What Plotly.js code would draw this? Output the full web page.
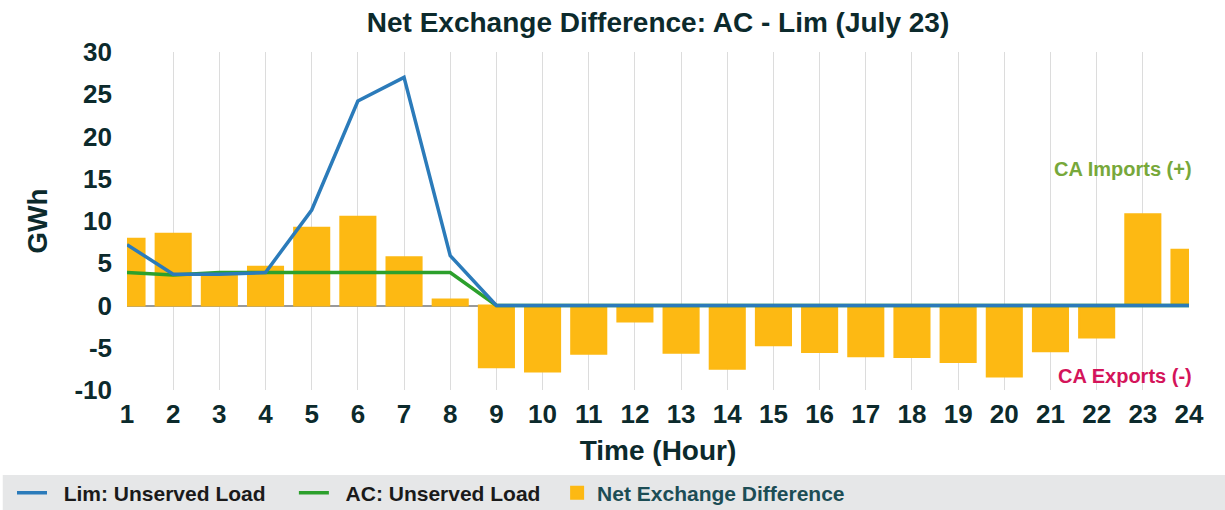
<!DOCTYPE html>
<html>
<head>
<meta charset="utf-8">
<script src="https://cdn.plot.ly/plotly-3.0.1.min.js"></script>
<style>
  html, body { margin: 0; padding: 0; background: #fff; }
  #chart { width: 1225px; height: 510px; }
</style>
</head>
<body>
<div id="chart"></div>
<script>
// hours of the day
var hours = [1, 2, 3, 4, 5, 6, 7, 8, 9, 10, 11, 12, 13, 14, 15, 16, 17, 18, 19, 20, 21, 22, 23, 24];

// GWh values
var netExchange = [7.9, 8.5, 3.7, 4.6, 9.2, 10.5, 5.7, 0.7, -7.3, -7.8, -5.7, -1.9, -5.6, -7.5, -4.7, -5.5, -6.0, -6.1, -6.7, -8.4, -5.4, -3.8, 10.8, 6.6];
var limUnserved = [7.2, 3.7, 3.7, 3.9, 11.3, 24.2, 27.0, 5.9, 0, 0, 0, 0, 0, 0, 0, 0, 0, 0, 0, 0, 0, 0, 0, 0];
var acUnserved = [3.9, 3.6, 3.9, 3.9, 3.9, 3.9, 3.9, 3.9, 0, 0, 0, 0, 0, 0, 0, 0, 0, 0, 0, 0, 0, 0, 0, 0];

var yTicks = [-10, -5, 0, 5, 10, 15, 20, 25, 30];

var darkText = '#0c2a2c';
var barColor = '#fdb913';
var font = 'Liberation Sans, Arial, sans-serif';

// non-breaking spaces to pad the legend entries apart
function pad(n) { return new Array(n + 1).join('&nbsp;'); }

// draw order: bars, AC, then Lim on top; legendrank keeps Lim, AC, Net in the legend
var data = [
    {
        x: hours,
        y: netExchange,
        type: 'bar',
        width: 0.76,
        name: '<b><span style="color:#1c4d55">Net Exchange Difference</span></b>',
        legendrank: 3,
        marker: { color: barColor, line: { color: barColor, width: 2 } }
    },
    {
        x: hours,
        y: acUnserved,
        type: 'scatter',
        mode: 'lines',
        name: pad(2) + '<b>AC: Unserved Load</b>' + pad(2),
        legendrank: 2,
        line: { color: '#2ca02c', width: 3.5 }
    },
    {
        x: hours,
        y: limUnserved,
        type: 'scatter',
        mode: 'lines',
        name: pad(2) + '<b>Lim: Unserved Load</b>' + pad(4),
        legendrank: 1,
        line: { color: '#2b7bba', width: 3.5 }
    }
];

var layout = {
    width: 1225,
    height: 510,
    margin: { l: 127, r: 36, t: 52, b: 120 },
    paper_bgcolor: '#fff',
    plot_bgcolor: '#fff',
    font: { family: font, color: darkText },
    title: {
        text: '<b>Net Exchange Difference: AC - Lim (July 23)</b>',
        font: { size: 28, color: darkText },
        xref: 'paper',
        x: 0.5,
        xanchor: 'center',
        yref: 'container',
        y: 1 - 22 / 510,
        yanchor: 'middle'
    },
    xaxis: {
        range: [1, 24],
        tickvals: hours,
        ticktext: hours.map(function (h) { return '<b>' + h + '</b>'; }),
        tickfont: { size: 26, color: darkText },
        ticklabelstandoff: 6,
        showgrid: true,
        gridcolor: '#dcdcdc',
        gridwidth: 1,
        zeroline: false,
        showline: false,
        ticks: '',
        title: { text: '<b>Time (Hour)</b>', font: { size: 28, color: darkText }, standoff: 12 }
    },
    yaxis: {
        range: [-10, 30],
        tickvals: yTicks,
        ticktext: yTicks.map(function (v) { return '<b>' + v + '</b>'; }),
        tickfont: { size: 26, color: darkText },
        ticklabelstandoff: 14,
        showgrid: false,
        zeroline: true,
        zerolinecolor: '#9a9a9a',
        zerolinewidth: 1.5,
        ticks: '',
        title: { text: '<b>GWh</b>', font: { size: 28, color: darkText }, standoff: 18 }
    },
    showlegend: true,
    legend: {
        orientation: 'h',
        xref: 'container',
        yref: 'container',
        x: 12 / 1225,
        xanchor: 'left',
        y: 1 - 493 / 510,
        yanchor: 'middle',
        bgcolor: 'rgba(0,0,0,0)',
        font: { size: 21, color: '#1a1a1a' },
        traceorder: 'normal'
    },
    shapes: [
        {
            type: 'rect',
            xref: 'paper', yref: 'paper',
            x0: -0.117, x1: 1.04,
            y0: (390 - 475) / 338, y1: (390 - 512) / 338,
            fillcolor: '#e6e7e8',
            line: { width: 0 },
            layer: 'below'
        }
    ],
    annotations: [
        {
            x: 24, y: 16.1, xref: 'x', yref: 'y',
            text: '<b>CA Imports (+)</b>',
            showarrow: false,
            xanchor: 'right',
            xshift: 5,
            font: { size: 20, color: '#77a83a' }
        },
        {
            x: 24, y: -8.3, xref: 'x', yref: 'y',
            text: '<b>CA Exports (-)</b>',
            showarrow: false,
            xanchor: 'right',
            xshift: 5,
            font: { size: 20, color: '#d4145a' }
        }
    ]
};

Plotly.newPlot('chart', data, layout, { displayModeBar: false });
</script>
</body>
</html>
